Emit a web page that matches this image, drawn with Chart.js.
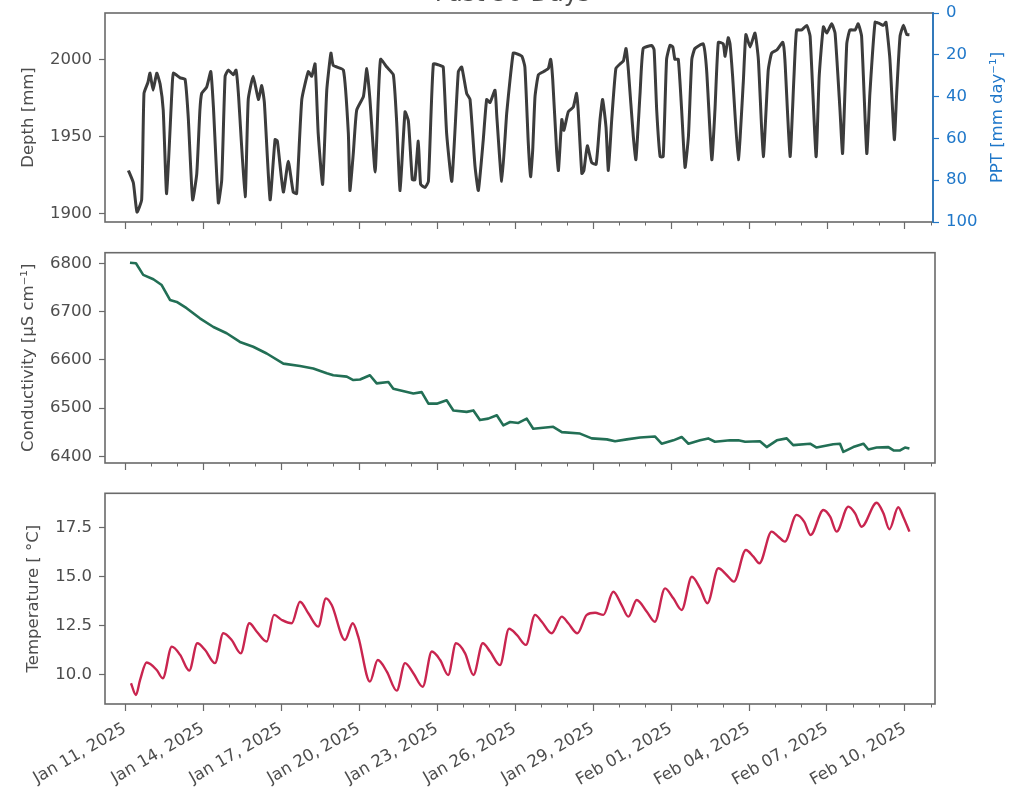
<!DOCTYPE html>
<html>
<head>
<meta charset="utf-8">
<title>Past 30 Days</title>
<script src="https://cdn.jsdelivr.net/npm/chart.js@4.4.1/dist/chart.umd.min.js"></script>
<style>
  html, body { margin: 0; padding: 0; background: #ffffff; overflow: hidden; width: 1025px; height: 801px; position: relative; }
  canvas { position: absolute; left: 0; }
</style>
</head>
<body>
<canvas id="depthChart" width="1025" height="252" style="top:-20px"></canvas>
<canvas id="condChart" width="1025" height="231" style="top:242px"></canvas>
<canvas id="tempChart" width="1025" height="318" style="top:483px"></canvas>
<script>
// ---- time axis: days since Jan 11, 2025 00:00 ----
const xTickDays = [0, 3, 6, 9, 12, 15, 18, 21, 24, 27, 30];
const xTickLabels = ['Jan 11, 2025', 'Jan 14, 2025', 'Jan 17, 2025', 'Jan 20, 2025', 'Jan 23, 2025',
  'Jan 26, 2025', 'Jan 29, 2025', 'Feb 01, 2025', 'Feb 04, 2025', 'Feb 07, 2025', 'Feb 10, 2025'];

// ---- water depth [mm] ----
const depthDays = [0.13,0.32,0.46,0.64,0.73,0.88,0.96,1.08,1.22,1.35,1.47,1.60,1.80,1.86,2.12,2.31,2.43,2.60,2.76,2.88,
  2.95,3.14,3.30,3.40,3.59,3.72,3.85,3.97,4.17,4.27,4.36,4.62,4.74,4.93,5.13,5.26,5.36,5.58,5.77,5.86,
  6.09,6.28,6.47,6.60,6.80,7.05,7.18,7.31,7.43,7.60,7.76,7.92,8.01,8.40,8.59,8.65,8.78,8.91,9.17,9.30,
  9.42,9.62,9.74,9.83,10.07,10.32,10.45,10.58,10.77,10.90,11.05,11.15,11.28,11.37,11.54,11.67,11.86,12.12,12.24,12.37,
  12.57,12.82,12.95,13.14,13.27,13.46,13.59,13.78,13.91,14.04,14.23,14.30,14.49,14.68,14.81,14.93,15.00,15.26,15.38,15.51,
  15.60,15.68,15.77,15.90,16.09,16.28,16.37,16.45,16.60,16.67,16.80,16.88,17.05,17.24,17.37,17.43,17.57,17.65,17.78,17.95,
  18.12,18.27,18.37,18.50,18.59,18.72,18.88,19.04,19.17,19.27,19.36,19.55,19.65,19.81,19.93,20.26,20.35,20.45,20.58,20.70,
  20.83,20.96,21.07,21.15,21.28,21.41,21.54,21.67,21.80,21.92,22.24,22.37,22.57,22.69,22.82,23.01,23.08,23.20,23.27,23.37,
  23.59,23.78,23.88,24.04,24.23,24.36,24.55,24.74,24.87,25.07,25.30,25.38,25.58,25.73,25.83,26.03,26.22,26.35,26.58,26.70,
  26.86,26.99,27.18,27.31,27.50,27.60,27.76,27.88,28.08,28.20,28.33,28.53,28.65,28.85,29.04,29.17,29.27,29.42,29.59,29.68,
  29.81,29.94,30.07,30.17];
const depthMm = [1928,1920,1901,1909,1978,1985,1991,1980,1991,1984,1967,1913,1978,1991,1988,1987,1963,1909,1926,1967,
  1978,1982,1992,1969,1907,1922,1989,1993,1990,1993,1978,1911,1974,1989,1974,1983,1972,1909,1948,1947,
  1914,1934,1914,1913,1974,1992,1989,1997,1952,1919,1980,2004,1996,1993,1952,1915,1939,1967,1976,1994,
  1974,1927,1974,2000,1995,1990,1959,1915,1966,1960,1922,1922,1947,1919,1917,1921,1997,1996,1995,1952,
  1921,1992,1995,1978,1974,1931,1915,1948,1974,1972,1980,1963,1921,1965,1987,2004,2004,2002,1995,1946,
  1924,1941,1976,1990,1992,1994,2000,1987,1941,1928,1961,1954,1966,1969,1978,1967,1926,1928,1944,1933,
  1932,1961,1974,1956,1928,1961,1994,1997,1999,2007,1993,1950,1935,1978,2007,2009,2006,1967,1937,1937,
  2000,2009,2008,2000,2000,1967,1930,1950,2000,2007,2010,1993,1935,1967,2011,2010,2002,2014,2010,1989,
  1935,1985,2016,2008,2017,2000,1937,1993,2004,2006,2011,2000,1937,1989,2019,2019,2022,2015,1937,1989,
  2021,2017,2023,2017,1967,1939,2010,2019,2019,2023,2015,1939,1978,2024,2023,2022,2024,2000,1948,1978,
  2015,2022,2016,2016];

// ---- precipitation [mm/day] (no rain in this window) ----
const pptDays = [];
const pptMm = [];

// ---- specific conductivity [uS/cm] ----
const condDays = [0.19,0.42,0.70,1.09,1.41,1.73,1.99,2.37,2.88,3.40,3.91,4.42,4.93,5.45,6.09,6.73,7.24,7.76,8.01,8.53,
  8.78,9.04,9.42,9.68,10.13,10.32,11.09,11.41,11.67,11.99,12.37,12.63,13.14,13.40,13.65,13.97,14.30,14.55,14.81,15.13,
  15.45,15.70,16.47,16.80,17.50,17.95,18.53,18.85,19.30,19.81,20.38,20.64,21.09,21.41,21.67,22.12,22.43,22.69,23.27,23.59,
  23.85,24.42,24.68,25.07,25.45,25.70,26.35,26.60,27.24,27.50,27.63,28.01,28.40,28.59,28.91,29.36,29.56,29.81,30.00,30.17];
const condUs = [6801,6800,6776,6767,6755,6724,6720,6707,6686,6668,6655,6637,6627,6613,6592,6587,6582,6572,6568,6565,
  6558,6559,6568,6551,6554,6540,6530,6533,6509,6509,6516,6495,6492,6495,6475,6478,6485,6464,6471,6469,
  6478,6457,6461,6450,6447,6437,6435,6431,6435,6439,6441,6426,6433,6440,6426,6433,6437,6430,6433,6433,
  6430,6431,6419,6433,6437,6423,6426,6418,6425,6426,6409,6419,6426,6414,6418,6419,6412,6412,6418,6416];

// ---- water temperature [degC] ----
const tempDays = [0.23,0.42,0.58,0.83,1.22,1.45,1.80,2.12,2.47,2.78,3.08,3.46,3.78,4.10,4.45,4.78,5.07,5.45,5.73,6.03,
  6.41,6.73,7.05,7.43,7.73,7.95,8.46,8.76,8.97,9.42,9.72,10.07,10.45,10.77,11.09,11.45,11.80,12.12,12.43,12.73,
  13.08,13.40,13.76,14.04,14.42,14.77,15.07,15.42,15.77,16.03,16.41,16.80,17.05,17.40,17.76,18.08,18.40,18.78,19.10,19.36,
  19.68,20.07,20.38,20.77,21.09,21.41,21.80,22.12,22.40,22.82,23.14,23.42,23.88,24.17,24.40,24.87,25.13,25.38,25.83,26.12,
  26.37,26.86,27.12,27.37,27.82,28.08,28.33,28.91,29.17,29.40,29.74,29.93,30.17];
const tempC = [9.58,8.98,9.75,10.63,10.25,9.83,11.44,11.02,10.22,11.61,11.27,10.6,12.12,11.78,11.1,12.63,12.2,11.7,13.06,12.8,
  12.63,13.73,13.14,12.46,13.9,13.56,11.78,12.63,11.95,9.66,10.76,10.17,9.2,10.6,10.09,9.4,11.19,10.76,10.0,11.61,
  11.1,10.0,11.61,11.19,10.5,12.35,12.04,11.53,13.06,12.71,12.12,12.97,12.63,12.12,13.06,13.17,13.06,14.24,13.56,12.97,
  13.82,13.22,12.71,14.41,13.9,13.31,15.0,14.41,13.65,15.43,15.09,14.75,16.36,16.02,15.69,17.3,17.04,16.79,18.15,17.81,
  17.13,18.4,18.06,17.3,18.57,18.23,17.55,18.77,18.23,17.42,18.54,18.06,17.3];

// ---- y tick values ----
const depthTicks = [1900, 1950, 2000];
const pptTicks = [0, 20, 40, 60, 80, 100];
const condTicks = [6400, 6500, 6600, 6700, 6800];
const tempTicks = [10, 12.5, 15, 17.5];

// ---- styling ----
const FONT = "'DejaVu Sans', 'Liberation Sans', sans-serif";
const TXT = '#4d4d4d';
const SPINE = '#6a6a6a';
const BLUE = '#1f77c9';
const TICK_FONT = { family: FONT, size: 16.5 };

const pairs = (xs, ys) => xs.map((x, i) => ({ x: x, y: ys[i] }));

// box around the plotting area, drawn over the data like axis spines
function framePlugin(rightColor) {
  return {
    id: 'frame',
    afterDatasetsDraw(chart) {
      const { left, right, top, bottom } = chart.chartArea;
      const ctx = chart.ctx;
      ctx.save();
      ctx.lineWidth = 1.6;
      ctx.strokeStyle = SPINE;
      ctx.strokeRect(left, top, right - left, bottom - top);
      if (rightColor) {
        ctx.strokeStyle = rightColor;
        ctx.beginPath();
        ctx.moveTo(right, top - 0.8);
        ctx.lineTo(right, bottom + 0.8);
        ctx.stroke();
      }
      ctx.restore();
    }
  };
}

// short daily tick marks between the labelled 3-day ticks
function minorTickPlugin() {
  return {
    id: 'minorTicks',
    afterDraw(chart) {
      const s = chart.scales.x;
      const ctx = chart.ctx;
      const b = chart.chartArea.bottom;
      ctx.save();
      ctx.strokeStyle = SPINE;
      ctx.lineWidth = 1;
      ctx.beginPath();
      for (let d = Math.ceil(s.min); d <= s.max; d++) {
        if (xTickDays.includes(d)) continue;
        const px = Math.round(s.getPixelForValue(d)) + 0.5;
        ctx.moveTo(px, b);
        ctx.lineTo(px, b + 3.5);
      }
      ctx.stroke();
      ctx.restore();
    }
  };
}

// right-hand axis label, reading bottom to top
function rightTitlePlugin(text, x, color) {
  return {
    id: 'rightTitle',
    afterDraw(chart) {
      const { top, bottom } = chart.chartArea;
      const ctx = chart.ctx;
      ctx.save();
      ctx.translate(x, (top + bottom) / 2);
      ctx.rotate(-Math.PI / 2);
      ctx.fillStyle = color;
      ctx.font = "16.5px " + FONT;
      ctx.textAlign = 'center';
      ctx.textBaseline = 'middle';
      ctx.fillText(text, 0, 0);
      ctx.restore();
    }
  };
}

function xScale(showLabels, xmax) {
  return {
    type: 'linear',
    position: 'bottom',
    min: -0.77,
    max: xmax,
    afterBuildTicks: s => { s.ticks = xTickDays.map(v => ({ value: v })); },
    afterFit: s => { s.height = showLabels ? 97 : 10; s.paddingLeft = 0; s.paddingRight = 0; },
    grid: { display: true, drawOnChartArea: false, drawTicks: true, tickLength: 7, tickColor: SPINE, tickWidth: 1.2 },
    border: { display: false },
    ticks: {
      display: showLabels, autoSkip: false, minRotation: 30, maxRotation: 30, padding: 8,
      color: TXT, font: TICK_FONT,
      callback: v => { const i = xTickDays.indexOf(v); return i >= 0 ? xTickLabels[i] : ''; }
    }
  };
}

function yScale(min, max, tickVals, fmt, titleText, titlePad) {
  return {
    type: 'linear',
    position: 'left',
    min: min,
    max: max,
    afterBuildTicks: s => { s.ticks = tickVals.map(v => ({ value: v })); },
    afterFit: s => { s.width = 105; s.paddingTop = 0; s.paddingBottom = 0; },
    grid: { display: true, drawOnChartArea: false, drawTicks: true, tickLength: 6, tickColor: SPINE, tickWidth: 1.2 },
    border: { display: false },
    ticks: { color: TXT, font: TICK_FONT, padding: 7, callback: v => fmt(v) },
    title: { display: true, text: titleText, color: TXT, font: TICK_FONT, padding: { top: titlePad, bottom: 0 } }
  };
}

const common = {
  responsive: false,
  animation: false,
  events: [],
  elements: { point: { radius: 0 } },
};

// ---- panel 1: depth + precipitation ----
new Chart(document.getElementById('depthChart'), {
  type: 'line',
  data: {
    datasets: [
      { label: 'Depth', data: pairs(depthDays, depthMm), borderColor: '#3c3c3c', borderWidth: 3,
        tension: 0.15, borderJoinStyle: 'round', fill: false, xAxisID: 'x', yAxisID: 'y' },
      { label: 'PPT', data: pairs(pptDays, pptMm), borderColor: BLUE, borderWidth: 1.5,
        fill: false, xAxisID: 'x', yAxisID: 'ppt' }
    ]
  },
  options: Object.assign({}, common, {
    layout: { padding: { left: 0, right: 0, top: 0, bottom: 0 } },
    plugins: {
      legend: { display: false }, tooltip: { enabled: false },
      title: { display: true, text: 'Past 30 Days', color: TXT, font: { family: FONT, size: 24, weight: 'normal' },
        padding: { top: 0, bottom: 4.2 } }
    },
    scales: {
      x: xScale(false, 31.077),
      y: yScale(1894.6, 2030, depthTicks, v => String(v), 'Depth [mm]', 18.5),
      ppt: {
        type: 'linear', position: 'right', reverse: true, min: 0, max: 100,
        afterBuildTicks: s => { s.ticks = pptTicks.map(v => ({ value: v })); },
        afterFit: s => { s.width = 92; s.paddingTop = 0; s.paddingBottom = 0; },
        grid: { display: true, drawOnChartArea: false, drawTicks: true, tickLength: 6, tickColor: BLUE, tickWidth: 1.2 },
        border: { display: false },
        ticks: { color: BLUE, font: TICK_FONT, padding: 7, callback: v => String(v) }
      }
    }
  }),
  plugins: [framePlugin(BLUE), minorTickPlugin(), rightTitlePlugin('PPT [mm day\u207B\u00B9]', 998, BLUE)]
});

// ---- panel 2: conductivity ----
new Chart(document.getElementById('condChart'), {
  type: 'line',
  data: {
    datasets: [
      { label: 'Conductivity', data: pairs(condDays, condUs), borderColor: '#226f55', borderWidth: 2.6,
        tension: 0, borderJoinStyle: 'round', fill: false }
    ]
  },
  options: Object.assign({}, common, {
    layout: { padding: { left: 0, right: 90, top: 10.7, bottom: 0 } },
    plugins: { legend: { display: false }, tooltip: { enabled: false } },
    scales: {
      x: xScale(false, 31.154),
      y: yScale(6386, 6822, condTicks, v => String(v), 'Conductivity [\u00B5S cm\u207B\u00B9]', 19)
    }
  }),
  plugins: [framePlugin(null), minorTickPlugin()]
});

// ---- panel 3: temperature ----
new Chart(document.getElementById('tempChart'), {
  type: 'line',
  data: {
    datasets: [
      { label: 'Temperature', data: pairs(tempDays, tempC), borderColor: '#c9254f', borderWidth: 2.4,
        cubicInterpolationMode: 'monotone', fill: false }
    ]
  },
  options: Object.assign({}, common, {
    layout: { padding: { left: 0, right: 90, top: 10.3, bottom: 0 } },
    plugins: { legend: { display: false }, tooltip: { enabled: false } },
    scales: {
      x: xScale(true, 31.154),
      y: yScale(8.52, 19.25, tempTicks, v => v.toFixed(1), 'Temperature [ \u00B0C]', 23.5)
    }
  }),
  plugins: [framePlugin(null), minorTickPlugin()]
});
</script>
</body>
</html>
